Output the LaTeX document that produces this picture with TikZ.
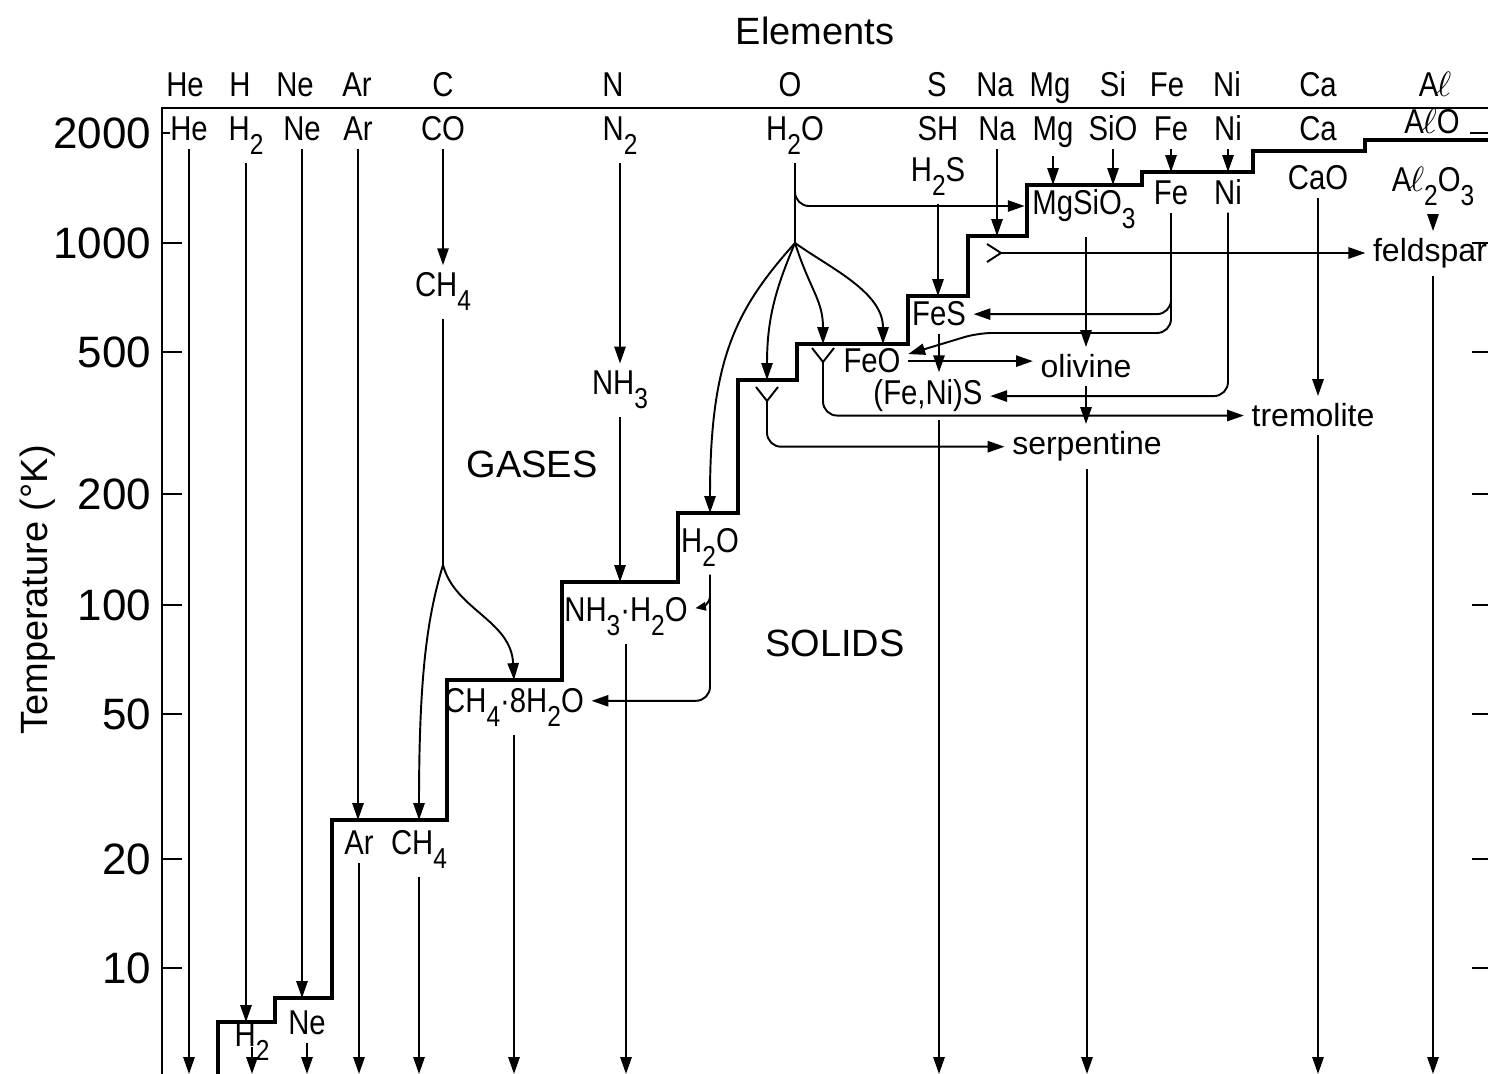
\documentclass[tikz,border=0pt]{standalone}
\usepackage{fontspec}
\setmainfont{Liberation Sans}
\newfontfamily\chemfont[FakeStretch=0.85]{Liberation Sans}
\usetikzlibrary{arrows.meta, positioning}

\newcommand{\chsub}[1]{\raisebox{-0.4em}{\fontsize{8.2}{9}\selectfont #1}}
\newcommand{\alsym}{A\kern-0.5pt$\ell$}

\begin{document}
\begin{tikzpicture}[x=0.01cm, y=-0.01cm,
        chem/.style={font=\chemfont\fontsize{9.8}{11}\selectfont, inner sep=2pt},
        mineral/.style={font=\fontsize{9.1}{10}\selectfont, inner sep=2pt},
        axislabel/.style={font=\fontsize{10.8}{12}\selectfont},
        ticklabel/.style={font=\fontsize{12.5}{14}\selectfont, anchor=east, inner sep=0pt},
        flow/.style={-{Triangle[length=4.8pt, width=3.2pt]}, line width=0.55pt},
        smallflow/.style={-{Triangle[length=3pt, width=2.4pt]}, line width=0.55pt},
        link/.style={line width=0.55pt},
        stair/.style={line width=1.4pt},
        axisline/.style={line width=0.8pt}]

        \useasboundingbox (0,0) rectangle (1488,1074);

        \draw[axisline] (162,1074) -- (162,108) -- (1488,108);
        \draw[axisline] (162,133) -- (170,133);
        \draw[axisline] (1470,133) -- (1488,133);
        \node[ticklabel] (t2000) at (152,133) {2000};
        \foreach \t/\y in {1000/243, 500/352, 200/494, 100/605, 50/714, 20/859, 10/968} {
          \draw[axisline] (162,\y) -- (182,\y);
          \draw[axisline] (1472,\y) -- (1488,\y);
          \node[ticklabel] (t\t) at (152,\y) {\t};
        }
        \node[axislabel, rotate=90] (temp) at (38,590) {Temperature (°K)};
        \node[axislabel, anchor=base] (elem) at (815,45) {Elements};
        \node[axislabel, anchor=base] (gas) at (532,478) {GASES};
        \node[axislabel, anchor=base] (solid) at (835,657) {SOLIDS};

        \coordinate (bot) at (0,1074);
        \coordinate (lv0) at (218,1074);
        \coordinate (lvH) at (275,1022);
        \coordinate (lvNe) at (332,998);
        \coordinate (lvAr) at (447,820);
        \coordinate (lvCH) at (562,680);
        \coordinate (lvNH) at (678,582);
        \coordinate (lvW) at (738,513);
        \coordinate (lvSerp) at (797,380);
        \coordinate (lvTrem) at (908,344);
        \coordinate (lvFeS) at (968,296);
        \coordinate (lvFeld) at (1027,236);
        \coordinate (lvMgSi) at (1142,185);
        \coordinate (lvFe) at (1253,172);
        \coordinate (lvCa) at (1365,151);
        \coordinate (lvAl) at (1488,140);
        \draw[stair] (lv0) |- (lvH) |- (lvNe) |- (lvAr) |- (lvCH) |- (lvNH) |- (lvW)
          |- (lvSerp) |- (lvTrem) |- (lvFeS) |- (lvFeld) |- (lvMgSi) |- (lvFe)
          |- (lvCa) |- (lvAl);

        \foreach \e/\x in {He/185, H/240, Ne/295, Ar/357, C/443, N/613, O/790, S/937,
          Na/995, Mg/1050, Si/1113, Fe/1167, Ni/1227, Ca/1318}
          \node[chem, anchor=base] (el\e) at (\x,97) {\e};
        \node[chem, anchor=base] (elAl) at (1435,97) {\alsym};

        \node[chem, anchor=base] (He) at (189,141) {He};
        \node[chem, anchor=base] (H2) at (246,141) {H\chsub{2}};
        \node[chem, anchor=base] (Ne) at (302,141) {Ne};
        \node[chem, anchor=base] (Ar) at (358,141) {Ar};
        \node[chem, anchor=base] (CO) at (443,141) {CO};
        \node[chem, anchor=base] (N2) at (620,141) {N\chsub{2}};
        \node[chem, anchor=base] (H2O) at (795,141) {H\chsub{2}O};
        \node[chem, anchor=base] (SH) at (938,141) {SH};
        \node[chem, anchor=base] (H2S) at (938,182) {H\chsub{2}S};
        \node[chem, anchor=base] (Na) at (997,141) {Na};
        \node[chem, anchor=base] (Mg) at (1053,141) {Mg};
        \node[chem, anchor=base] (SiO) at (1113,141) {SiO};
        \node[chem, anchor=base] (Fe) at (1171,141) {Fe};
        \node[chem, anchor=base] (Ni) at (1228,141) {Ni};
        \node[chem, anchor=base] (Ca) at (1318,141) {Ca};
        \node[chem, anchor=base] (AlO) at (1432,134) {\alsym O};

        \node[chem, anchor=base] (H2b) at (252,1047) {H\chsub{2}};
        \node[chem, anchor=base] (Neb) at (307,1035) {Ne};
        \node[chem, anchor=base] (Arb) at (359,855) {Ar};
        \node[chem, anchor=base] (CH4b) at (419,855) {CH\chsub{4}};
        \node[chem, anchor=base] (CH4) at (443,297) {CH\chsub{4}};
        \node[chem, anchor=base] (Clath) at (514,713) {CH\chsub{4}·8H\chsub{2}O};
        \node[chem, anchor=base] (NH3) at (620,395) {NH\chsub{3}};
        \node[chem, anchor=base] (NHW) at (626,622) {NH\chsub{3}·H\chsub{2}O};
        \node[chem, anchor=base] (Wice) at (710,553) {H\chsub{2}O};
        \node[chem, anchor=base] (FeS) at (939,326) {FeS};
        \node[chem, anchor=base] (FeO) at (872,373) {FeO};
        \node[chem, anchor=base] (FeNiS) at (928,405) {(Fe,Ni)S};
        \node[chem, anchor=base] (MgSiO3) at (1084,215) {MgSiO\chsub{3}};
        \node[chem, anchor=base] (Fes) at (1171,205) {Fe};
        \node[chem, anchor=base] (Nis) at (1228,205) {Ni};
        \node[chem, anchor=base] (CaO) at (1318,190) {CaO};
        \node[chem, anchor=base] (Al2O3) at (1433,192) {\alsym\chsub{2}O\chsub{3}};
        \node[mineral, anchor=base] (olv) at (1086,378) {olivine};
        \node[mineral, anchor=base] (serp) at (1087,455) {serpentine};
        \node[mineral, anchor=base] (trem) at (1313,427) {tremolite};
        \node[mineral, anchor=base] (feld) at (1430,262) {feldspar};

        \draw[flow] (He.south) -- (He.south |- bot);
        \draw[flow] (H2.south) -- (H2.south |- lvH);
        \draw[flow] (H2b.base) -- (H2b.base |- bot);
        \draw[flow] (Ne.south) -- (Ne.south |- lvNe);
        \draw[flow] (Neb.south) -- (Neb.south |- bot);
        \draw[flow] (Ar.south) -- (Ar.south |- lvAr);
        \draw[flow] (Arb.south) -- (Arb.south |- bot);

        \coordinate (cfork) at (443,565);
        \draw[flow] (CO.south) -- (CH4.north);
        \draw[link] (CH4.south) -- (cfork);
        \draw[flow] (cfork) .. controls (428,615) and (419,670) .. (CH4b.north |- lvAr);
        \draw[flow] (cfork) .. controls (455,610) and (511,620) .. (Clath.north |- lvCH);
        \draw[flow] (CH4b.south) -- (CH4b.south |- bot);
        \draw[flow] (Clath.south) -- (Clath.south |- bot);

        \draw[flow] (N2.south) -- (N2.south |- NH3.north);
        \draw[flow] (NH3.south) -- (NH3.south |- lvNH);
        \draw[flow] (NHW.south) -- (NHW.south |- bot);

        \coordinate (obr) at (795,186);
        \coordinate (ofork) at (795,243);
        \coordinate (ySerp) at (767,401);
        \coordinate (yTrem) at (823,362);
        \coordinate (oFeO) at (883,344);
        \draw[link] (H2O.south) -- (ofork);
        \draw[flow, rounded corners=4pt] (obr) |- ([yshift=1pt]MgSiO3.west);
        \draw[flow] (ofork) .. controls (735,310) and (710,360) .. (Wice.north |- lvW);
        \draw[flow] (ofork) .. controls (775,290) and (767,320) .. (ySerp |- lvSerp);
        \draw[flow] (ofork) .. controls (810,290) and (823,300) .. (yTrem |- lvTrem);
        \draw[flow] (ofork) .. controls (830,268) and (883,292) .. (oFeO);

        \coordinate (wbr) at (710,596);
        \draw[flow, rounded corners=4pt] (Wice.south) |- ([yshift=2pt]Clath.east);
        \draw[smallflow] (wbr) .. controls (710,604) and (702,607) .. ([yshift=2.5pt]NHW.east);

        \draw[link] ([shift={(-11,-14)}]ySerp) -- (ySerp) -- ([shift={(11,-14)}]ySerp);
        \draw[flow, rounded corners=4pt] (ySerp) |- (serp.west);
        \draw[link] ([shift={(-11,-14)}]yTrem) -- (yTrem) -- ([shift={(11,-14)}]yTrem);
        \draw[flow, rounded corners=4pt] (yTrem) |- (trem.west);

        \draw[flow] (H2S.south) -- (H2S.south |- lvFeS);
        \draw[flow] (FeS.south) -- (FeS.south |- FeNiS.north);
        \draw[flow] (FeS.south |- FeNiS.south) -- (FeS.south |- bot);
        \draw[flow] (FeO.east) -- (FeO.east -| olv.west);

        \draw[flow] (Na.south) -- (Na.south |- lvFeld);
        \coordinate (yFeld) at (1001,253);
        \draw[link] ([shift={(-14,-9)}]yFeld) -- (yFeld) -- ([shift={(-14,9)}]yFeld);
        \draw[flow] (yFeld) -- (yFeld -| feld.west);

        \draw[flow] (Mg.south) -- (Mg.south |- lvMgSi);
        \draw[flow] (SiO.south) -- (SiO.south |- lvMgSi);
        \draw[flow] (MgSiO3.south -| olv) -- (olv.north);
        \draw[flow] (olv.south) -- (olv.south |- serp.north);
        \draw[flow] (serp.south) -- (serp.south |- bot);

        \draw[flow] (Fe.south) -- (Fe.south |- lvFe);
        \draw[flow, rounded corners=4pt] (Fes.south) |- (FeS.east);
        \draw[flow, rounded corners=4pt] (Fes.south) |- (978,333) -- ([yshift=2pt]FeO.east);

        \draw[flow] (Ni.south) -- (Ni.south |- lvFe);
        \draw[flow, rounded corners=4pt] (Nis.south) |- (FeNiS.east);

        \draw[flow] (CaO.south) -- (CaO.south |- trem.north);
        \draw[flow] (CaO.south |- trem.south) -- (CaO.south |- bot);

        \draw[flow] (Al2O3.south) -- (Al2O3.south |- feld.north);
        \draw[flow] (Al2O3.south |- feld.south) -- (Al2O3.south |- bot);
      \end{tikzpicture}
\end{document}
